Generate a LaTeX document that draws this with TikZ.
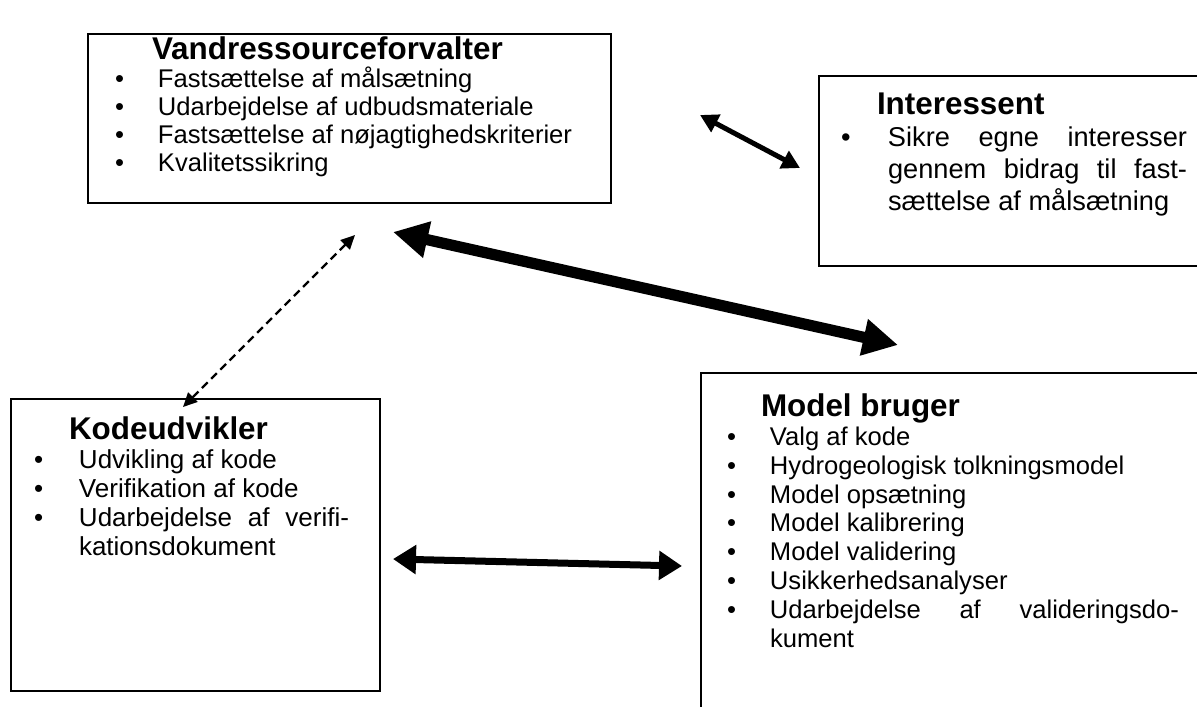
\documentclass[tikz,border=0pt]{standalone}
\usepackage{fontspec}
\setmainfont{Liberation Sans}
\usetikzlibrary{arrows.meta}

\newlength{\txtind}
\newlength{\bulind}
\newlength{\rmarg}
\newcommand{\boxhead}[2]{\hspace*{#1}{\fontsize{15.7}{19}\selectfont\bfseries #2\par}}
\newcommand{\bitem}[1]{{\leftskip=\txtind\rightskip=\rmarg\noindent\llap{\makebox[\txtind][l]{\hspace*{\bulind}\textbullet}}#1\par}}

\begin{document}
\begin{tikzpicture}[x=0.5pt,y=-0.5pt]
\tikzstyle{box}=[draw,line width=1pt,anchor=north west,inner sep=0pt]
\tikzstyle{link}=[line width=3.5pt,{Triangle[length=11.5pt,width=14pt]}-{Triangle[length=11.5pt,width=14pt]}]
\tikzstyle{biglink}=[line width=5.6pt,{Triangle[length=17.5pt,width=17.5pt]}-{Triangle[length=17.5pt,width=17.5pt]}]
\tikzstyle{midlink}=[line width=2.5pt,{Triangle[length=9pt,width=9.5pt]}-{Triangle[length=9pt,width=9.5pt]}]
\tikzstyle{weaklink}=[line width=1.2pt,dash pattern=on 4pt off 2.5pt,{Triangle[length=7pt,width=6.5pt]}-{Triangle[length=7pt,width=6.5pt]}]

\useasboundingbox (0,0) rectangle (1197,706);
\clip (0,0) rectangle (1197,706);

\node[box] (vand) at (87,33) {\parbox[t][84.5pt][t]{261.5pt}{%
  \fontsize{12.8}{14}\selectfont
  \setlength{\txtind}{35pt}\setlength{\bulind}{13.5pt}\setlength{\rmarg}{0pt}%
  \vspace*{1.5pt}
  \boxhead{32pt}{Vandressourceforvalter}
  \bitem{Fastsættelse af målsætning}
  \bitem{Udarbejdelse af udbudsmateriale}
  \bitem{Fastsættelse af nøjagtighedskriterier}
  \bitem{Kvalitetssikring}}};

\node[box] (inter) at (818,75) {\parbox[t][95pt][t]{196pt}{%
  \fontsize{13.6}{16}\selectfont
  \setlength{\txtind}{34.5pt}\setlength{\bulind}{11pt}\setlength{\rmarg}{12pt}%
  \vspace*{8.5pt}
  \boxhead{29pt}{Interessent}
  \bitem{Sikre egne interesser\linebreak gennem bidrag til fast-\linebreak sættelse af målsætning}}};

\node[box] (kode) at (10,398) {\parbox[t][146pt][t]{184.5pt}{%
  \fontsize{13}{14.5}\selectfont
  \setlength{\txtind}{34pt}\setlength{\bulind}{11.5pt}\setlength{\rmarg}{15.5pt}%
  \vspace*{9pt}
  \boxhead{29pt}{Kodeudvikler}
  \bitem{Udvikling af kode}
  \bitem{Verifikation af kode}
  \bitem{Udarbejdelse af verifi-\linebreak kationsdokument}}};

\node[box] (model) at (700,372) {\parbox[t][180pt][t]{255pt}{%
  \fontsize{12.8}{14.4}\selectfont
  \setlength{\txtind}{34.5pt}\setlength{\bulind}{13pt}\setlength{\rmarg}{16pt}%
  \vspace*{10.5pt}
  \boxhead{30pt}{Model bruger}
  \bitem{Valg af kode}
  \bitem{Hydrogeologisk tolkningsmodel}
  \bitem{Model opsætning}
  \bitem{Model kalibrering}
  \bitem{Model validering}
  \bitem{Usikkerhedsanalyser}
  \bitem{Udarbejdelse af valideringsdo-\linebreak kument}}};

\coordinate (vi1) at (700,115);
\coordinate (vi2) at (800,168);
\coordinate (vm1) at (393,232);
\coordinate (vm2) at (898,345);
\coordinate (vk1) at (355,235);
\coordinate (vk2) at (183,407);
\coordinate (km1) at (393,559);
\coordinate (km2) at (682,566);

\draw[midlink] (vi1) -- (vi2);
\draw[biglink] (vm1) -- (vm2);
\draw[weaklink] (vk1) -- (vk2);
\draw[link] (km1) -- (km2);

\end{tikzpicture}
\end{document}
